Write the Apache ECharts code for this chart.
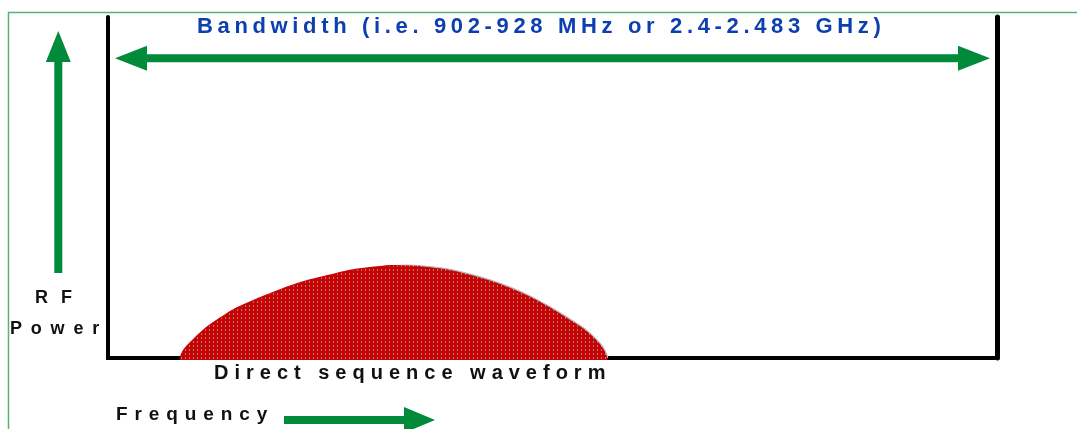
<!DOCTYPE html>
<html>
<head>
<meta charset="utf-8">
<script src="https://cdn.jsdelivr.net/npm/echarts@6/dist/echarts.min.js"></script>
<style>
html,body{margin:0;padding:0;background:#fff;}
#chart{width:1077px;height:429px;}
</style>
</head>
<body>
<div id="chart"></div>
<script>
// ---- data ----
var waveX = [8.10, 8.44, 8.77, 9.22, 9.9, 11.14, 12.6, 14.06, 15.97, 17.89, 20.47, 22.72, 24.97, 27.22, 29.47, 31.72, 33.97, 36.22, 38.47, 40.72, 42.97, 45.22, 47.47, 49.72, 51.97, 53.66, 54.89, 55.68, 56.13, 56.2];
var waveY = [0, 2.05, 3.2, 4.4, 6.2, 9.1, 11.7, 14.1, 16.4, 18.5, 21.1, 22.9, 24.3, 25.7, 26.5, 27.1, 27.2, 26.8, 26.0, 24.6, 22.9, 20.8, 18.2, 15.0, 11.4, 8.5, 5.6, 3.2, 0.9, 0];
var titleText = 'Bandwidth (i.e. 902-928 MHz or 2.4-2.483 GHz)';
var yNameLines = ['RF', 'Power'];
var seriesName = 'Direct sequence waveform';
var xName = 'Frequency';

// letter spacing per text (px)
var SPACING = {};
SPACING[titleText] = 4.65;
SPACING['RF'] = 13;
SPACING['Power'] = 8.8;
SPACING[seriesName] = 6.0;
SPACING[xName] = 6.9;
(function () {
  var proto = CanvasRenderingContext2D.prototype;
  var orig = proto.fillText;
  proto.fillText = function (t, x, y, mw) {
    var ls = SPACING[t];
    try { this.letterSpacing = (ls !== undefined ? ls : 0) + 'px'; } catch (e) {}
    return mw === undefined ? orig.call(this, t, x, y) : orig.call(this, t, x, y, mw);
  };
})();

var pc = document.createElement('canvas');
pc.width = 4; pc.height = 4;
var pctx = pc.getContext('2d');
pctx.fillStyle = '#cc0000';
pctx.fillRect(0, 0, 4, 4);
pctx.fillStyle = '#8c8c8c';
pctx.fillRect(1, 1, 1, 2);

var GREEN = '#008a3a';
var FONT = "'Liberation Sans', Arial, Helvetica, sans-serif";

var chart = echarts.init(document.getElementById('chart'), null, {renderer: 'canvas'});
var data = waveX.map(function (x, i) { return [x, waveY[i]]; });

chart.setOption({
  animation: false,
  backgroundColor: '#fff',
  grid: {left: 108, right: 80, top: 17, bottom: 71},
  xAxis: {
    type: 'value', min: 0, max: 100,
    axisLine: {show: true, onZero: false, lineStyle: {color: '#000', width: 4, cap: 'square'}},
    axisTick: {show: false}, axisLabel: {show: false}, splitLine: {show: false}
  },
  yAxis: [{
    type: 'value', min: 0, max: 100, position: 'left',
    axisLine: {show: true, onZero: false, lineStyle: {color: '#000', width: 4}},
    axisTick: {show: false}, axisLabel: {show: false}, splitLine: {show: false}
  }, {
    type: 'value', min: 0, max: 100, position: 'right',
    axisLine: {show: true, onZero: false, lineStyle: {color: '#000', width: 5}},
    axisTick: {show: false}, axisLabel: {show: false}, splitLine: {show: false}
  }],
  series: [{
    name: seriesName,
    type: 'line',
    data: data,
    smooth: 0.3,
    clip: false,
    showSymbol: false,
    z: 3,
    lineStyle: {
      width: 1.2,
      color: {type: 'linear', x: 0, y: 0, x2: 1, y2: 0, colorStops: [
        {offset: 0, color: '#cc0000'}, {offset: 0.5, color: '#cc0000'},
        {offset: 0.56, color: '#b8b8b8'}, {offset: 1, color: '#b8b8b8'}]}
    },
    areaStyle: {color: {image: pc, repeat: 'repeat'}, opacity: 1, origin: -0.6}
  }],
  graphic: [
    {type: 'rect', shape: {x: 8.5, y: 12.5, width: 1200, height: 600}, style: {fill: 'none', stroke: '#55b37a', lineWidth: 1.5}, silent: true},
    {type: 'polygon', shape: {points: [[115, 58.3], [147, 45.8], [147, 54.3], [958, 54.3], [958, 45.8], [990, 58.3], [958, 70.8], [958, 62.3], [147, 62.3], [147, 70.8]]}, style: {fill: GREEN}},
    {type: 'polygon', shape: {points: [[58.3, 31], [70.8, 62], [62.3, 62], [62.3, 273], [54.3, 273], [54.3, 62], [45.8, 62]]}, style: {fill: GREEN}},
    {type: 'polygon', shape: {points: [[284, 416], [404, 416], [404, 407], [435, 420], [404, 433], [404, 424], [284, 424]]}, style: {fill: GREEN}},
    {type: 'text', x: 197, y: 27, style: {text: titleText, fill: '#0d3fae', font: 'bold 22px ' + FONT, textAlign: 'left', textVerticalAlign: 'middle'}},
    {type: 'text', x: 35, y: 298, style: {text: yNameLines[0], fill: '#111', font: 'bold 18px ' + FONT, textAlign: 'left', textVerticalAlign: 'middle'}},
    {type: 'text', x: 10, y: 329, style: {text: yNameLines[1], fill: '#111', font: 'bold 18px ' + FONT, textAlign: 'left', textVerticalAlign: 'middle'}},
    {type: 'text', x: 214, y: 373, style: {text: seriesName, fill: '#111', font: 'bold 20px ' + FONT, textAlign: 'left', textVerticalAlign: 'middle'}},
    {type: 'text', x: 116, y: 415, style: {text: xName, fill: '#111', font: 'bold 19px ' + FONT, textAlign: 'left', textVerticalAlign: 'middle'}}
  ]
});
</script>
</body>
</html>
